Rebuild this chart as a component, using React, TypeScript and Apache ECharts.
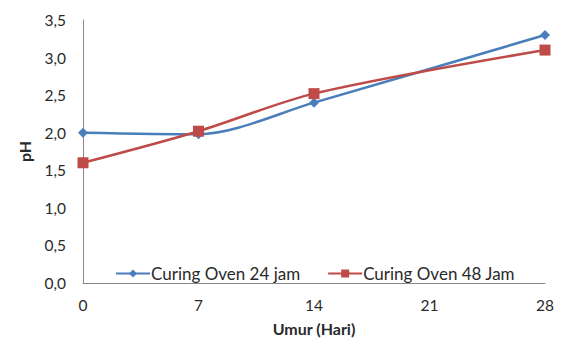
import React, { useEffect, useRef } from "react";
import * as echarts from "echarts";

const days = [0, 7, 14, 28];
const oven24 = [2.0, 1.98, 2.4, 3.3];
const oven48 = [1.6, 2.02, 2.52, 3.1];
const seriesNames = ["Curing Oven 24 jam", "Curing Oven 48 Jam"];

const FONT = "Lato, 'Open Sans', sans-serif";

export default function App() {
  const ref = useRef<HTMLDivElement>(null);
  useEffect(() => {
    if (!ref.current) return;
    const chart = echarts.init(ref.current, undefined, { renderer: "svg" });
    const pts = (ys: number[]) => days.map((d, i) => [d, ys[i]]);
    chart.setOption({
      animation: false,
      backgroundColor: "#ffffff",
      textStyle: { fontFamily: FONT },
      grid: { left: 72, right: 11, top: 12, bottom: 50 },
      legend: {
        left: 102,
        top: 252,
        itemGap: 27,
        itemWidth: 34,
        itemHeight: 10,
        textStyle: { fontFamily: FONT, fontSize: 17, color: "#2a2a2a", padding: [0, 0, 0, -4] },
        data: seriesNames,
      },
      xAxis: {
        type: "value",
        min: 0,
        max: 28,
        interval: 7,
        name: "Umur (Hari)",
        nameLocation: "middle",
        nameGap: 37,
        nameTextStyle: { fontFamily: FONT, fontWeight: "bold", fontSize: 16, color: "#2a2a2a" },
        axisLine: { lineStyle: { color: "#888", width: 1 } },
        axisTick: { show: false },
        splitLine: { show: false },
        axisLabel: { fontFamily: FONT, fontSize: 15.5, color: "#2a2a2a", margin: 14 },
      },
      yAxis: {
        type: "value",
        min: 0,
        max: 3.5,
        interval: 0.5,
        name: "pH",
        nameLocation: "middle",
        nameGap: 51,
        nameTextStyle: { fontFamily: FONT, fontWeight: "bold", fontSize: 16, color: "#2a2a2a" },
        axisLine: { show: true, lineStyle: { color: "#888", width: 1 } },
        axisTick: { show: false },
        splitLine: { show: false },
        axisLabel: {
          fontFamily: FONT,
          fontSize: 15.5,
          color: "#2a2a2a",
          margin: 17,
          formatter: (v: number) => v.toFixed(1).replace(".", ","),
        },
      },
      series: [
        {
          name: seriesNames[0],
          type: "line",
          data: pts(oven24),
          smooth: 0.3,
          symbol: "diamond",
          symbolSize: 10,
          lineStyle: { color: "#4a7ebb", width: 2.5 },
          itemStyle: { color: "#4a7ebb" },
        },
        {
          name: seriesNames[1],
          type: "line",
          data: pts(oven48),
          smooth: 0.3,
          symbol: "rect",
          symbolSize: 11,
          lineStyle: { color: "#be4b48", width: 2.5 },
          itemStyle: { color: "#be4b48" },
        },
      ],
    });
    return () => chart.dispose();
  }, []);
  return <div ref={ref} style={{ width: 549, height: 333 }} />;
}
